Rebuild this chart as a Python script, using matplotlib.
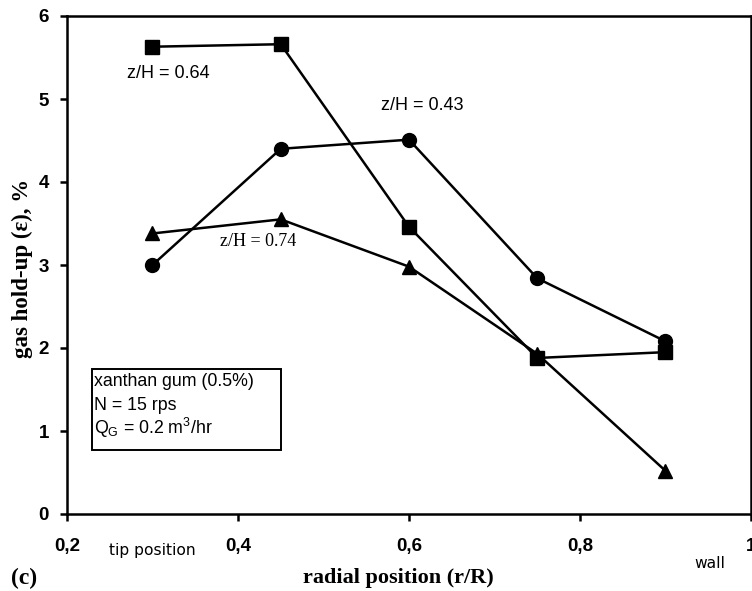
import matplotlib
matplotlib.use("Agg")
import matplotlib.pyplot as plt
from matplotlib.ticker import FixedLocator
from matplotlib.patches import Rectangle

r_pos = [0.3, 0.45, 0.6, 0.75, 0.9]
zh_064 = [5.63, 5.66, 3.46, 1.88, 1.95]
zh_043 = [3.00, 4.40, 4.51, 2.84, 2.08]
zh_074 = [3.38, 3.55, 2.98, 1.93, 0.52]
xticks = [0.2, 0.4, 0.6, 0.8, 1.0]
xticklabels = ["0,2", "0,4", "0,6", "0,8", "1"]
yticks = [0, 1, 2, 3, 4, 5, 6]

W, H = 752, 591
fig = plt.figure(figsize=(W/100, H/100), dpi=100)
ax = fig.add_axes([67/W, 1-514/H, (751-67)/W, (514-16)/H])

kw = dict(color="black", lw=1.8)
ax.plot(r_pos, zh_064, marker="s", ms=10, **kw)
ax.plot(r_pos, zh_043, marker="o", ms=10, **kw)
ax.plot(r_pos, zh_074, marker="^", ms=10, **kw)

ax.set_xlim(0.2, 1.0)
ax.set_ylim(0, 6)
ax.xaxis.set_major_locator(FixedLocator(xticks))
ax.set_xticklabels(xticklabels)
ax.yaxis.set_major_locator(FixedLocator(yticks))
for s in ax.spines.values():
    s.set_linewidth(1.8)
ax.tick_params(direction="out", length=5, width=1.8)
for lab in ax.get_xticklabels() + ax.get_yticklabels():
    lab.set_fontfamily("Liberation Sans")
    lab.set_fontweight("bold")
    lab.set_fontsize(13.5)
ax.tick_params(axis="x", pad=12)
ax.tick_params(axis="y", pad=8)

ax.text(0.270, 5.31, "z/H = 0.64", family="Liberation Sans", fontsize=13, ha="left", va="center")
ax.text(0.616, 4.92, "z/H = 0.43", family="Liberation Sans", fontsize=13, ha="center", va="center")
ax.text(0.4234, 3.28, "z/H = 0.74", family="Liberation Serif", fontsize=13, ha="center", va="center")

fig.add_artist(Rectangle((92/W, 1-450/H), (281-92)/W, (450-369)/H, transform=fig.transFigure,
                         fc="white", ec="black", lw=1.4))
fig.text(94/W, 1-382/H, "xanthan gum (0.5%)", family="Liberation Sans", fontsize=12.8, ha="left", va="center")
fig.text(94/W, 1-405/H, "N = 15 rps", family="Liberation Sans", fontsize=12.8, ha="left", va="center")
fig.text(94/W, 1-428/H, "Q$_\\mathregular{G}$ = 0.2 m$^\\mathregular{3}$/hr", family="Liberation Sans",
         fontsize=12.8, ha="left", va="center")

fig.text(152/W, 1-551/H, "tip position", family="DejaVu Sans", fontsize=11.2, ha="center", va="center")
fig.text(710/W, 1-564/H, "wall", family="DejaVu Sans", fontsize=11.2, ha="center", va="center")
fig.text(11/W, 1-578/H, "(c)", family="Liberation Serif", fontweight="bold", fontsize=17, ha="left", va="center")
fig.text(398/W, 1-578/H, "radial position (r/R)", family="Liberation Serif", fontweight="bold",
         fontsize=16, ha="center", va="center")
fig.text(22/W, 1-268/H, "gas hold-up (ε), %", family="Liberation Serif", fontweight="bold",
         fontsize=16.5, ha="center", va="center", rotation=90)

fig.savefig("out.png", dpi=100)
